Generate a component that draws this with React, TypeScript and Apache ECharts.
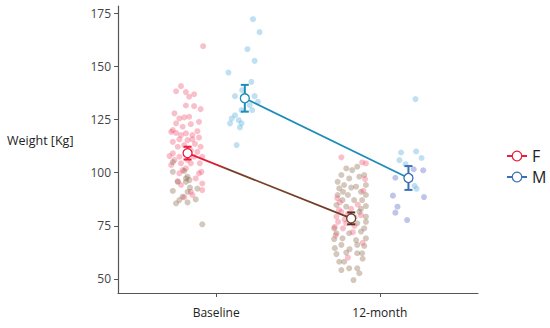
import React, { useEffect, useRef } from "react";
import * as echarts from "echarts";

const categories = ["Baseline", "12-month"];
const groups = ["F", "M"];
const yTicks = [50, 75, 100, 125, 150, 175];

// model means and error half-widths per group: [Baseline, 12-month]
const meanF = [109.2, 78.5];
const meanM = [135.0, 97.5];
const errF = [3.0, 2.8];
const errM = [6.3, 5.6];

// individual points: [jitter (category units), weight]
const fBasePink: number[][] = [
  [0.095, 159.5], [-0.04, 140.7], [-0.07, 138.3], [-0.01, 137.9], [0.01, 135.7], [0.04, 136.9],
  [-0.08, 127.9], [-0.01, 131.6], [0.04, 131.3], [0.08, 129.9],
  [-0.05, 125.5], [-0.02, 126.0], [0.01, 126.3], [0.07, 123.9],
  [-0.07, 123.2], [-0.03, 121.6], [0.02, 122.8],
  [-0.09, 120.0], [-0.1, 119.2], [-0.07, 118.7], [-0.04, 117.7], [-0.01, 118.5], [0.03, 117.7], [0.06, 119.5],
  [-0.05, 115.7], [-0.09, 114.5], [0.0, 115.3], [0.03, 115.7], [0.07, 116.5],
  [-0.06, 112.2], [0.08, 112.2], [0.045, 113.5], [-0.02, 113.0],
  [-0.09, 109.1], [-0.11, 107.8], [-0.05, 107.5], [0.04, 107.5], [0.09, 107.5], [0.02, 110.5], [0.06, 109.8],
  [-0.08, 105.9], [-0.1, 103.6], [-0.04, 104.4], [0.02, 104.4], [0.075, 104.4], [0.0, 106.0],
  [-0.01, 102.0], [0.085, 100.4], [-0.05, 99.7], [0.07, 99.7], [-0.03, 101.2],
  [-0.04, 94.2], [0.05, 97.3], [0.09, 94.9], [0.09, 91.8], [0.02, 91.0], [0.03, 89.5], [-0.02, 88.4], [-0.06, 96.0],
];
const fBaseBrown: number[][] = [
  [-0.09, 100.4], [0.0, 98.1], [-0.01, 95.7], [0.012, 96.5], [-0.06, 95.7], [-0.09, 91.4], [0.0, 91.0],
  [-0.03, 88.7], [-0.05, 87.1], [-0.07, 85.6], [0.05, 87.4], [0.09, 75.7], [-0.01, 97.3], [0.015, 93.0],
  [0.06, 92.5], [-0.09, 105.0], [-0.02, 100.8], [0.0, 86.0],
];
const f12Pink: number[][] = [
  [-0.06, 107.2], [0.067, 104.8], [0.09, 104.4], [-0.06, 81.6], [-0.09, 79.3], [-0.08, 76.9], [-0.03, 76.2],
  [-0.05, 73.8], [-0.075, 82.5], [-0.02, 80.5], [0.0, 83.0], [-0.1, 74.5], [-0.04, 78.0], [0.02, 75.0],
  [0.06, 80.0], [-0.07, 86.0], [0.085, 97.0], [-0.095, 70.5], [0.04, 85.0], [0.075, 91.5], [-0.085, 88.0],
  [0.01, 72.0], [0.07, 67.0], [-0.02, 60.0],
];
const f12Brown: number[][] = [
  [-0.03, 102.0], [0.006, 101.2], [0.037, 102.8], [-0.06, 98.9], [-0.012, 97.3], [0.05, 98.1], [0.08, 98.9],
  [-0.083, 95.7], [-0.043, 94.2], [0.03, 93.4], [0.09, 94.2], [-0.073, 92.6], [0.06, 91.0],
  [-0.083, 89.5], [-0.02, 89.5], [0.09, 89.5], [-0.053, 87.1], [0.018, 87.1], [0.067, 87.1],
  [-0.09, 84.8], [-0.03, 84.0], [0.09, 84.3], [0.05, 81.6], [0.09, 79.3], [0.037, 76.2], [0.09, 76.9],
  [-0.104, 73.8], [0.08, 73.8], [-0.09, 71.5], [-0.012, 71.5], [0.06, 72.3],
  [-0.104, 68.7], [-0.053, 69.1], [0.03, 68.3], [0.09, 69.1], [-0.06, 66.0], [0.037, 66.0], [0.08, 65.5],
  [-0.09, 61.7], [-0.03, 62.4], [0.037, 62.1], [0.067, 62.1], [-0.073, 58.1], [-0.043, 58.1],
  [-0.012, 55.0], [0.037, 55.0], [-0.06, 54.2], [0.05, 52.7], [0.014, 49.5],
  [0.0, 93.0], [-0.01, 64.0], [0.07, 59.5], [-0.1, 64.5], [0.02, 79.0], [0.06, 83.0], [-0.05, 91.0],
];
const mBase: number[][] = [
  [0.05, 172.2], [0.09, 166.1], [0.016, 158.1], [0.06, 152.6], [-0.1, 147.1], [0.04, 142.7],
  [-0.016, 138.8], [-0.06, 136.0], [0.06, 136.0], [0.08, 133.3], [0.03, 131.8], [-0.02, 129.4],
  [0.045, 129.4], [-0.06, 127.0], [-0.08, 125.5], [-0.09, 123.2], [-0.037, 124.7], [-0.02, 123.2],
  [-0.03, 121.3], [-0.05, 113.0],
];
const m12Light: number[][] = [
  [0.043, 134.6], [-0.045, 109.5], [0.047, 110.0], [0.08, 106.9], [-0.055, 105.9], [-0.018, 104.0],
  [0.037, 93.8], [0.05, 92.4],
];
const m12Dark: number[][] = [
  [0.032, 101.6], [0.09, 101.1], [-0.08, 97.6], [-0.095, 89.2], [0.095, 88.5], [-0.067, 84.0],
  [-0.08, 81.2], [-0.008, 77.7],
];

const dodge = 0.175;
const place = (pts: number[][], catIdx: number, groupIdx: number) =>
  pts.map(([j, w]) => [catIdx + 1 + (groupIdx === 0 ? -dodge : dodge) + j, w]);

const colF = "#ee1b3d";
const colFBrown = "#6e3b24";
const colM = "#1d8db8";
const colM2 = "#3a6fb6";

export default function App() {
  const ref = useRef<HTMLDivElement>(null);
  useEffect(() => {
    document.body.style.margin = "0";
    if (!ref.current) return;
    const chart = echarts.init(ref.current, undefined, { renderer: "svg" });
    const font = "'Open Sans', 'Liberation Sans', sans-serif";
    const pinkStyle = { color: "rgba(238,80,110,0.45)" };
    const brownStyle = { color: "rgba(135,100,70,0.45)" };
    const scatter = (data: number[][], style: any) => ({
      type: "scatter",
      data,
      symbolSize: 6,
      itemStyle: style,
      silent: true,
      z: 1,
    });
    const errData = [
      [1 - dodge, meanF[0] - errF[0], meanF[0] + errF[0], 0],
      [2 - dodge, meanF[1] - errF[1], meanF[1] + errF[1], 1],
      [1 + dodge, meanM[0] - errM[0], meanM[0] + errM[0], 2],
      [2 + dodge, meanM[1] - errM[1], meanM[1] + errM[1], 3],
    ];
    const errColors = [colF, "#5a2c1e", colM, colM2];
    chart.setOption({
      animation: false,
      grid: { left: 118, right: 72, top: 6, bottom: 35, containLabel: false },
      legend: {
        orient: "vertical",
        left: 501,
        top: 143,
        itemWidth: 20,
        itemHeight: 12,
        itemGap: 5,
        textStyle: { fontSize: 16, color: "#222", fontFamily: font },
        data: [
          { name: "F", lineStyle: { color: colF }, itemStyle: { color: "#fff", borderColor: colF, borderWidth: 1.2 } },
          { name: "M", lineStyle: { color: colM2 }, itemStyle: { color: "#fff", borderColor: colM2, borderWidth: 1.2 } },
        ],
      },
      xAxis: {
        type: "value",
        min: 0.4,
        max: 2.6,
        splitLine: { show: false },
        axisLine: { lineStyle: { color: "#555", width: 1.2 } },
        axisTick: { show: true, length: 4, customValues: [1, 2], lineStyle: { color: "#555" } },
        axisLabel: {
          customValues: [1, 2],
          formatter: (v: number) => categories[Math.round(v) - 1] ?? "",
          fontSize: 12,
          color: "#222",
          margin: 13,
          fontFamily: font,
        },
      },
      yAxis: {
        type: "value",
        min: 43.4,
        max: 178.4,
        splitLine: { show: false },
        axisLine: { show: true, lineStyle: { color: "#555", width: 1.2 } },
        axisTick: { show: true, length: 4, customValues: yTicks, lineStyle: { color: "#555" } },
        axisLabel: { customValues: yTicks, fontSize: 12, color: "#444", margin: 7, fontFamily: font },
      },
      graphic: [
        {
          type: "text",
          left: 7,
          top: 134,
          style: { text: "Weight [Kg]", fontSize: 12.5, fill: "#222", fontFamily: font },
        },
      ],
      series: [
        scatter(place(fBasePink, 0, 0), pinkStyle),
        scatter(place(fBaseBrown, 0, 0), brownStyle),
        scatter(place(f12Brown, 1, 0), brownStyle),
        scatter(place(f12Pink, 1, 0), pinkStyle),
        scatter(place(mBase, 0, 1), { color: "rgba(110,185,225,0.55)" }),
        scatter(place(m12Light, 1, 1), { color: "rgba(110,185,225,0.55)" }),
        scatter(place(m12Dark, 1, 1), { color: "rgba(110,120,205,0.55)" }),
        {
          type: "custom",
          data: errData,
          z: 3,
          silent: true,
          renderItem: (params: any, api: any) => {
            const x = api.value(0);
            const lo = api.coord([x, api.value(1)]);
            const hi = api.coord([x, api.value(2)]);
            const c = errColors[api.value(3)];
            const w = 4;
            const st = { stroke: c, lineWidth: 2 };
            return {
              type: "group",
              children: [
                { type: "line", shape: { x1: lo[0], y1: lo[1], x2: hi[0], y2: hi[1] }, style: st },
                { type: "line", shape: { x1: lo[0] - w, y1: lo[1], x2: lo[0] + w, y2: lo[1] }, style: st },
                { type: "line", shape: { x1: hi[0] - w, y1: hi[1], x2: hi[0] + w, y2: hi[1] }, style: st },
              ],
            };
          },
        },
        {
          name: "F",
          type: "line",
          z: 4,
          data: [
            { value: [1 - dodge, meanF[0]], itemStyle: { borderColor: colF } },
            { value: [2 - dodge, meanF[1]], itemStyle: { borderColor: colFBrown } },
          ],
          symbol: "circle",
          symbolSize: 9,
          itemStyle: { color: "#fff", borderColor: colF, borderWidth: 1.3 },
          lineStyle: {
            width: 1.8,
            color: new echarts.graphic.LinearGradient(0, 0, 1, 0, [
              { offset: 0, color: colF },
              { offset: 0.18, color: "#d8202f" },
              { offset: 0.25, color: "#7a4028" },
              { offset: 1, color: colFBrown },
            ]),
          },
        },
        {
          name: "M",
          type: "line",
          z: 4,
          data: [
            { value: [1 + dodge, meanM[0]], itemStyle: { borderColor: colM } },
            { value: [2 + dodge, meanM[1]], itemStyle: { borderColor: colM2 } },
          ],
          symbol: "circle",
          symbolSize: 9,
          itemStyle: { color: "#fff", borderColor: colM, borderWidth: 1.3 },
          lineStyle: { width: 1.8, color: colM },
        },
      ],
    });
    return () => chart.dispose();
  }, []);
  return <div ref={ref} style={{ width: 550, height: 328 }} />;
}
